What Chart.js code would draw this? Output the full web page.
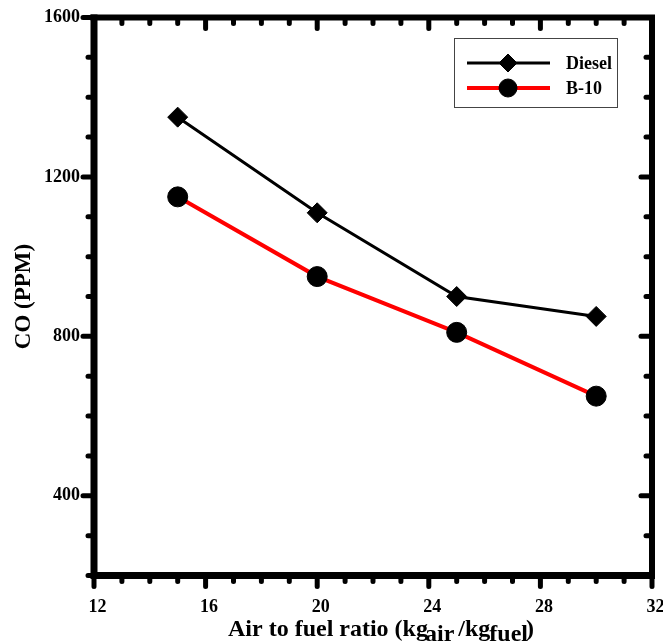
<!DOCTYPE html>
<html>
<head>
<meta charset="utf-8">
<script src="https://cdn.jsdelivr.net/npm/chart.js@4.4.0/dist/chart.umd.min.js"></script>
<style>
  html, body { margin: 0; padding: 0; background: #fff; }
  canvas { display: block; }
</style>
</head>
<body>
<canvas id="coChart" width="663" height="642"></canvas>
<script>
// air-to-fuel ratio vs CO emissions
const afRatio = [15, 20, 25, 30];
const dieselCO = [1350, 1110, 900, 850];
const b10CO = [1150, 950, 810, 650];

const xMin = 12, xMax = 32, xStep = 4, xMinorStep = 1;
const yMin = 200, yMax = 1600, yStep = 400, yMinorStep = 100;

const serif = "'Liberation Serif', 'Times New Roman', serif";

// thick box frame with rounded tick marks: outward on left/bottom, inward on top/right
const frameTicks = {
    id: 'frameTicks',
    afterDraw(chart) {
        const { ctx, chartArea: a, scales: { x, y } } = chart;
        ctx.save();
        ctx.strokeStyle = '#000';
        ctx.lineCap = 'round';

        ctx.lineWidth = 5;
        for (let v = xMin; v <= xMax; v += xMinorStep) {
            const px = x.getPixelForValue(v);
            const len = v % xStep === 0 ? 11 : 6;
            ctx.beginPath();
            ctx.moveTo(px, a.bottom); ctx.lineTo(px, a.bottom + len);
            ctx.moveTo(px, a.top); ctx.lineTo(px, a.top + len);
            ctx.stroke();
        }
        for (let v = yMin; v <= yMax; v += yMinorStep) {
            const py = y.getPixelForValue(v);
            const len = v % yStep === 0 ? 11 : 6;
            ctx.beginPath();
            ctx.moveTo(a.left, py); ctx.lineTo(a.left - len, py);
            ctx.moveTo(a.right, py); ctx.lineTo(a.right - len, py);
            ctx.stroke();
        }

        ctx.lineCap = 'butt';
        ctx.lineWidth = 7;
        ctx.beginPath();
        ctx.moveTo(a.left, a.top - 3); ctx.lineTo(a.left, a.bottom + 3.5);
        ctx.moveTo(a.left - 3.5, a.bottom); ctx.lineTo(a.right + 3, a.bottom);
        ctx.stroke();
        ctx.lineWidth = 6;
        ctx.beginPath();
        ctx.moveTo(a.left - 3.5, a.top); ctx.lineTo(a.right + 3, a.top);
        ctx.moveTo(a.right, a.top); ctx.lineTo(a.right, a.bottom);
        ctx.stroke();
        ctx.restore();
    }
};

// boxed legend in the upper right
const boxLegend = {
    id: 'boxLegend',
    afterDraw(chart) {
        const { ctx } = chart;
        ctx.save();
        ctx.strokeStyle = '#444';
        ctx.lineWidth = 1;
        ctx.strokeRect(454.5, 38.5, 163, 69);
        chart.data.datasets.forEach((ds, i) => {
            const ly = 63 + i * 25;
            ctx.strokeStyle = ds.borderColor;
            ctx.lineWidth = ds.borderWidth;
            ctx.beginPath();
            ctx.moveTo(467, ly); ctx.lineTo(550, ly);
            ctx.stroke();
            ctx.fillStyle = ds.pointBackgroundColor;
            ctx.strokeStyle = ds.pointBorderColor;
            ctx.lineWidth = 1;
            Chart.helpers.drawPoint(ctx, {
                pointStyle: ds.pointStyle, radius: ds.pointRadius - 1, borderWidth: 1, rotation: 0
            }, 508, ly);
            ctx.fillStyle = '#000';
            ctx.font = 'bold 18px ' + serif;
            ctx.textBaseline = 'middle';
            ctx.textAlign = 'left';
            ctx.fillText(ds.label, 566, ly + 1);
        });
        ctx.restore();
    }
};

// x axis title with subscripts
const xTitle = {
    id: 'xTitle',
    afterDraw(chart) {
        const { ctx } = chart;
        const base = 636;
        const parts = [
            ['Air to fuel ratio (kg', 0, 0],
            ['air', 5, -3],
            ['/kg', 0, 4],
            ['fuel', 5, -1],
            [')', 0, -2]
        ];
        ctx.save();
        ctx.fillStyle = '#000';
        ctx.font = 'bold 24px ' + serif;
        ctx.textBaseline = 'alphabetic';
        ctx.textAlign = 'left';
        let cx = 228;
        parts.forEach(([txt, drop, shift]) => {
            cx += shift;
            ctx.fillText(txt, cx, base + drop);
            cx += ctx.measureText(txt).width;
        });
        ctx.restore();
    }
};

new Chart(document.getElementById('coChart'), {
    type: 'line',
    data: {
        datasets: [
            {
                label: 'Diesel',
                data: afRatio.map((v, i) => ({ x: v, y: dieselCO[i] })),
                borderColor: '#000',
                borderWidth: 3,
                pointStyle: 'rectRot',
                pointRadius: 10,
                pointBackgroundColor: '#000',
                pointBorderColor: '#000',
                pointBorderWidth: 1
            },
            {
                label: 'B-10',
                data: afRatio.map((v, i) => ({ x: v, y: b10CO[i] })),
                borderColor: '#ff0000',
                borderWidth: 4,
                pointStyle: 'circle',
                pointRadius: 10,
                pointBackgroundColor: '#000',
                pointBorderColor: '#000',
                pointBorderWidth: 1
            }
        ]
    },
    options: {
        responsive: false,
        animation: false,
        devicePixelRatio: 1,
        layout: { padding: { top: 17.5, right: 11, left: 0, bottom: 0 } },
        elements: { line: { tension: 0 } },
        plugins: { legend: { display: false }, tooltip: { enabled: false } },
        scales: {
            x: {
                type: 'linear',
                min: xMin, max: xMax,
                grid: { display: false, drawTicks: false },
                border: { display: false },
                ticks: {
                    stepSize: xStep,
                    padding: 21,
                    labelOffset: 3.5,
                    color: '#000',
                    callback: v => String(v),
                    font: { family: serif, size: 18, weight: 'bold' }
                },
                afterFit: s => { s.height = 66.5; s.paddingLeft = 0; s.paddingRight = 0; }
            },
            y: {
                min: yMin, max: yMax,
                grid: { display: false, drawTicks: false },
                border: { display: false },
                ticks: {
                    stepSize: yStep,
                    includeBounds: false,
                    padding: 14,
                    color: '#000',
                    callback: v => String(v),
                    font: { family: serif, size: 18, weight: 'bold' }
                },
                title: {
                    display: true,
                    text: 'CO (PPM)',
                    color: '#000',
                    padding: { top: 10, bottom: 0 },
                    font: { family: serif, size: 23, weight: 'bold' }
                },
                afterFit: s => { s.width = 94; s.paddingTop = 0; s.paddingBottom = 0; }
            }
        }
    },
    plugins: [frameTicks, boxLegend, xTitle]
});
</script>
</body>
</html>
